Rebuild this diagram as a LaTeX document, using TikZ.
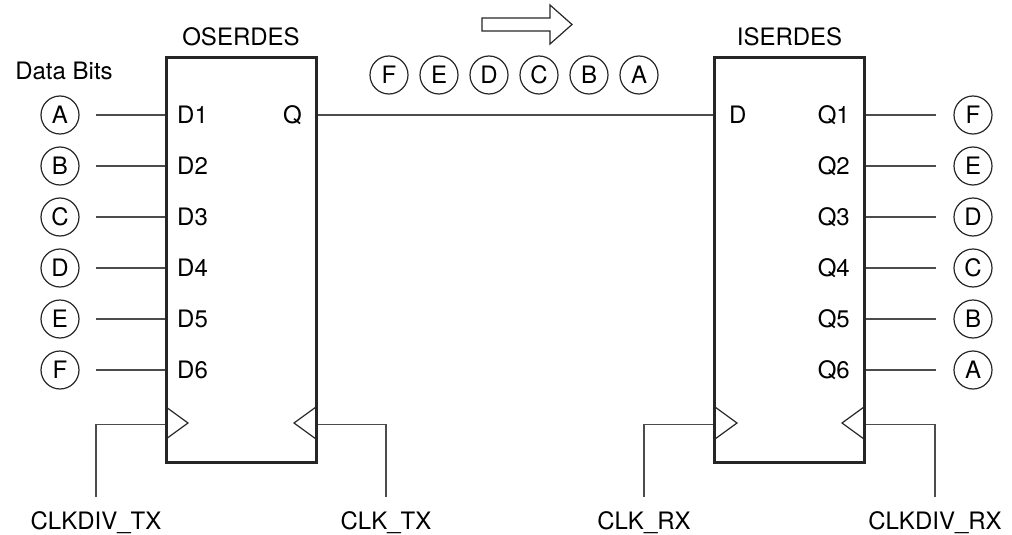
\documentclass[tikz,border=0pt]{standalone}
\usepackage{fontspec}
\setmainfont{TeX Gyre Heros}
\usetikzlibrary{positioning,calc}

\begin{document}
\begin{tikzpicture}[
  x=1pt, y=-1pt,
  font=\fontsize{24}{29}\selectfont,
  blk/.style={draw=black!85, line width=3pt, minimum width=150pt, minimum height=404pt, inner sep=0pt},
  bit/.style={draw=black!85, circle, line width=1.2pt, minimum size=38pt, inner sep=0pt, text height=17.2pt, text depth=0pt},
  pin/.style={inner sep=0pt, text height=17.2pt, text depth=0pt},
  wire/.style={draw=black!70, line width=1.5pt},
  clk/.style={draw=black!85, line width=1.2pt},
]
\useasboundingbox (0,0) rectangle (1012,535);
% serializer / deserializer blocks
\node[blk] (osr) at (241,260) {};
\node[blk] (isr) at (789.5,260) {};
\node[pin, above=11pt of osr] (osrname) {OSERDES};
\node[pin, above=11pt of isr] (isrname) {ISERDES};
\node[pin] (databits) at (64,71) {Data Bits};
% parallel inputs of OSERDES
\foreach \l [count=\i] in {A,B,C,D,E,F} {
  \pgfmathsetmacro\yy{115+51*(\i-1)}
  \node[bit] (tx\l) at (60,\yy) {\l};
  \coordinate (txw\i) at (96,\yy);
  \node[pin, anchor=west] (d\i) at (177,\yy) {D\i};
  \draw[wire] (txw\i) -- (txw\i -| osr.west);
}
% parallel outputs of ISERDES
\foreach \l [count=\i] in {F,E,D,C,B,A} {
  \pgfmathsetmacro\yy{115+51*(\i-1)}
  \node[bit] (rx\l) at (973,\yy) {\l};
  \coordinate (rxw\i) at (936,\yy);
  \node[pin, anchor=east] (q\i) at (850,\yy) {Q\i};
  \draw[wire] (rxw\i -| isr.east) -- (rxw\i);
}
% serial link
\node[pin, anchor=east] (qout) at (302,115) {Q};
\node[pin, anchor=west] (din) at (729,115) {D};
\draw[wire] (qout -| osr.east) -- (din -| isr.west);
\foreach \l [count=\i] in {F,E,D,C,B,A}
  \node[bit] (ser\l) at (389+50*\i-50,75) {\l};
% direction of transfer
\draw[line width=1.2pt, draw=black!85] (482,18) -- (550,18) -- (550,5) -- (572,24.5)
  -- (550,44) -- (550,31) -- (482,31) -- cycle;
% clock inputs
\draw[clk] (166,407) -- (188,423) -- (166,439);
\draw[clk] (316,407) -- (294,423) -- (316,439);
\draw[clk] (715,407) -- (737,423) -- (715,439);
\draw[clk] (864,407) -- (842,423) -- (864,439);
\node[pin] (ckdivtx) at (96,521) {CLKDIV\_TX};
\node[pin] (cktx) at (386,521) {CLK\_TX};
\node[pin] (ckrx) at (644,521) {CLK\_RX};
\node[pin] (ckdivrx) at (935,521) {CLKDIV\_RX};
\draw[wire, shorten >=15pt] ([yshift=39pt]osr.south west) -| (ckdivtx.north);
\draw[wire, shorten >=15pt] ([yshift=39pt]osr.south east) -| (cktx.north);
\draw[wire, shorten >=15pt] ([yshift=39pt]isr.south west) -| (ckrx.north);
\draw[wire, shorten >=15pt] ([yshift=39pt]isr.south east) -| (ckdivrx.north);
\end{tikzpicture}
\end{document}
